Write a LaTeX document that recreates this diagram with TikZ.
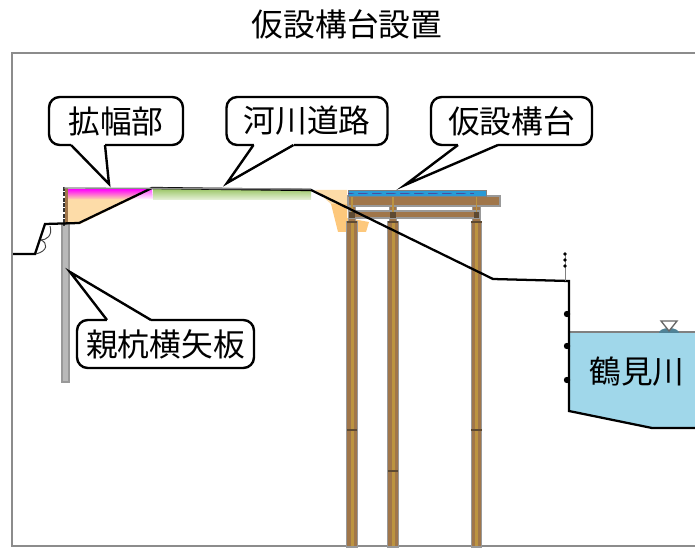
\documentclass[tikz,border=0pt]{standalone}
\usepackage{fontspec}
\setmainfont{Noto Sans CJK JP}
\usetikzlibrary{calc,positioning}
\definecolor{woodbrown}{HTML}{A0764A}
\definecolor{woodcore}{HTML}{BC9440}
\definecolor{wooddark}{HTML}{5E4A32}
\definecolor{rivercol}{HTML}{A0D7EA}
\definecolor{watermark}{HTML}{4F8296}
\definecolor{soilcol}{HTML}{FDDCA8}
\definecolor{blockcol}{HTML}{FDC87C}
\definecolor{roadcol}{HTML}{A4CB74}
\definecolor{deckcol}{HTML}{2A9AD6}
\tikzset{
    bubble/.style={draw=black, line width=1.8pt, rounded corners=8pt, fill=white, inner sep=0pt, outer sep=0pt, minimum height=36pt, font=\fontsize{23.8}{24}\selectfont},
    bigtext/.style={font=\fontsize{23.8}{24}\selectfont},
    groundline/.style={draw=black, line width=1.7pt},
    woodpart/.style={draw=gray!80, line width=1pt, fill=woodbrown},
}
\begin{document}
\begin{tikzpicture}[x=0.75pt, y=-0.75pt]
    \useasboundingbox (0,0) rectangle (695,548);

    % Frame and title
    \draw[gray!90, line width=1.7pt] (696,53) -- (12,53) -- (12,546) -- (696,546);
    \node[bigtext] (title) at (347,24) {仮設構台設置};

    % River
    \fill[rivercol] (569,332) -- (695,332) -- (695,428) -- (652,428) -- (569,411) -- cycle;
    \draw[gray, line width=1pt] (569,332) -- (695,332);
    \fill[watermark] (659,333) arc[start angle=180, end angle=360, x radius=10, y radius=5] -- cycle;
    \draw[gray!80!black, line width=1pt, fill=white] (661,321) -- (677,321) -- (669,331) -- cycle;

    % Widened part
    \fill[soilcol] (68,199) -- (132,199) -- (80,224) -- (68,224) -- cycle;
    \shade[top color=magenta, bottom color=soilcol] (68,189) -- (152,189) -- (132,199.5) -- (68,199.5) -- cycle;
    \shade[top color=magenta!70, bottom color=white] (152,189) -- (132,199.5) -- (153,199.5) -- cycle;
    \shade[top color=roadcol, bottom color=roadcol!25] (153,190) rectangle (311,200);

    % Earth at the abutment
    \fill[soilcol] (315,190) -- (347,190) -- (347,218) -- (331,204) -- cycle;
    \fill[blockcol] (331,204) -- (347,204) -- (347,218) -- (369,222) -- (366,232) -- (338,232) -- cycle;

    % Piles
    \foreach \x/\joint in {346.8/430, 387.8/471, 471.2/430} {
        \draw[woodpart] (\x,222) rectangle (\x+10.4,547);
        \fill[woodcore] (\x+3.7,222) rectangle (\x+6.7,546);
        \fill[wooddark] (\x,\joint-1) rectangle (\x+10.4,\joint+1);
        \draw[woodpart] (\x+1.4,206) rectangle (\x+9,222);
        \draw[wooddark, line width=0.8pt] (\x,222) -- (\x+10.4,222);
    }

    % Beams
    \draw[woodpart] (350,211) rectangle (480,218);
    \foreach \x in {346.8,387.8,471.2} {
        \fill[wooddark] (\x+2.4,212) rectangle (\x+8,218);
    }
    \draw[woodpart] (348,196) rectangle (500,206);
    \foreach \x in {346.8,387.8,471.2}
        \fill[woodcore] (\x+4.4,196) rectangle (\x+6,212);

    % Deck
    \draw[gray, fill=deckcol, line width=0.7pt] (348,190) rectangle (486,196);
    \foreach \x in {348,362,...,472} {
        \draw[blue!45!black!70, line width=0.35pt] (\x,193) -- (\x+14,193);
        \fill[cyan!50!deckcol] (\x+4,193) -- (\x+10,191) -- (\x+10,195) -- cycle;
    }

    % Soldier pile
    \draw[gray!80, line width=0.8pt, fill=gray!55] (62,224) rectangle (69,382);
    \fill[woodbrown] (65,188) rectangle (68,224);
    \draw[black!80, line width=2pt, dash pattern=on 3pt off 1pt] (64,187) -- (64,226);

    % Slope on the left
    \draw[gray!50!black, line width=0.7pt] (50,226) .. controls (53,236) and (46,240) .. (41,240);
    \draw[gray!50!black, line width=0.7pt] (41,240) .. controls (48,243) and (48,251) .. (36,254);

    % Ground line
    \draw[groundline] (13,254) -- (35,254) -- (45,224) -- (79,223) -- (152,188) -- (311,190) -- (493,279) -- (569,281) -- (569,411) -- (652,428) -- (695,428);
    \draw[gray!90, line width=1pt] (64,188) -- (311,189);

    % Railing and wall anchors
    \draw[gray, line width=0.6pt] (565,253) -- (565,281);
    \foreach \y in {254,260,266}
        \fill (565,\y) circle (1.8);
    \foreach \y in {314,346,380}
        \fill (567,\y) circle (3.2);

    % Callouts
    \node[bubble, minimum width=134*0.75pt] (wide) at (116,121) {拡幅部};
    \node[bubble, minimum width=161*0.75pt] (road) at (307,121) {河川道路};
    \node[bubble, minimum width=161*0.75pt] (deck) at (511.5,121) {仮設構台};
    \node[bubble, minimum width=177*0.75pt] (pile) at (165.5,344) {親杭横矢板};
    \coordinate (widetip) at (109,184);
    \coordinate (roadtip) at (227,183);
    \coordinate (decktip) at (405,185);
    \coordinate (piletip) at (70,272);
    \foreach \bub/\corner/\a/\b/\tip in {wide/south west/22/56/widetip, road/south west/27/67/roadtip, deck/south west/27/67/decktip, pile/north west/30/74/piletip} {
        \fill[white] ($(\bub.\corner)+(\a,0)$) -- (\tip) -- ($(\bub.\corner)+(\b,0)$) -- cycle;
        \draw[white, line width=2.4pt] ($(\bub.\corner)+(\a,0)$) -- ($(\bub.\corner)+(\b,0)$);
        \draw[black, line width=1.8pt] ($(\bub.\corner)+(\a,0)$) -- (\tip) -- ($(\bub.\corner)+(\b,0)$);
    }

    % River name
    \node[bigtext] (river) at (637,372) {鶴見川};
\end{tikzpicture}
\end{document}
